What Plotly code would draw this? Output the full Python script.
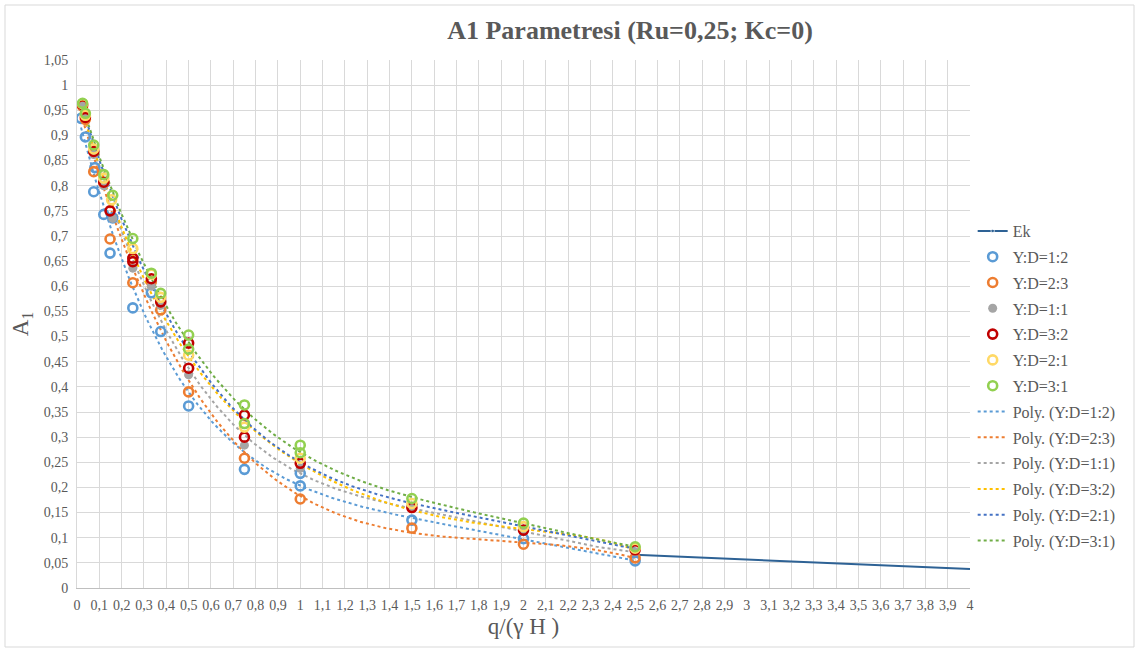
import numpy as np
import plotly.graph_objects as go

# ---------------- data ----------------
ek_x = [2.5, 4.0]
ek_y = [0.066, 0.038]

s12_x = [0.018, 0.0375, 0.075, 0.08, 0.12, 0.148, 0.16, 0.25, 0.333, 0.375, 0.5, 0.75, 1.0, 1.0, 1.5, 2.0, 2.5]
s12_y = [0.934, 0.897, 0.788, 0.836, 0.743, 0.666, 0.736, 0.557, 0.587, 0.510, 0.362, 0.236, 0.228, 0.203, 0.135, 0.098, 0.054]

s23_x = [0.025, 0.0375, 0.075, 0.12, 0.148, 0.25, 0.333, 0.375, 0.5, 0.75, 1.0, 1.5, 2.0, 2.5]
s23_y = [0.958, 0.932, 0.828, 0.806, 0.694, 0.607, 0.609, 0.553, 0.390, 0.258, 0.177, 0.119, 0.087, 0.060]

s11_x = [0.025, 0.0375, 0.075, 0.12, 0.16, 0.25, 0.333, 0.375, 0.5, 0.75, 1.0, 1.5, 2.0, 2.5]
s11_y = [0.958, 0.935, 0.862, 0.800, 0.735, 0.636, 0.600, 0.562, 0.424, 0.284, 0.238, 0.158, 0.112, 0.072]

s32_x = [0.025, 0.0375, 0.075, 0.12, 0.148, 0.25, 0.25, 0.333, 0.375, 0.5, 0.5, 0.75, 0.75, 1.0, 1.5, 2.0, 2.5]
s32_y = [0.961, 0.936, 0.868, 0.807, 0.750, 0.656, 0.649, 0.615, 0.569, 0.487, 0.437, 0.344, 0.300, 0.248, 0.160, 0.115, 0.076]

s21_x = [0.025, 0.0375, 0.075, 0.12, 0.155, 0.25, 0.333, 0.375, 0.5, 0.75, 1.0, 1.5, 2.0, 2.5]
s21_y = [0.963, 0.940, 0.873, 0.815, 0.772, 0.675, 0.624, 0.578, 0.463, 0.320, 0.258, 0.168, 0.122, 0.079]

s31_x = [0.025, 0.0375, 0.075, 0.12, 0.16, 0.25, 0.333, 0.375, 0.5, 0.5, 0.75, 0.75, 1.0, 1.0, 1.5, 2.0, 2.5]
s31_y = [0.964, 0.944, 0.881, 0.822, 0.781, 0.695, 0.626, 0.586, 0.503, 0.475, 0.364, 0.327, 0.284, 0.269, 0.178, 0.129, 0.082]

series_names = ["Y:D=1:2", "Y:D=2:3", "Y:D=1:1", "Y:D=3:2", "Y:D=2:1", "Y:D=3:1"]

x_tick_vals = [round(i * 0.1, 1) for i in range(41)]
x_tick_text = ["0", "0,1", "0,2", "0,3", "0,4", "0,5", "0,6", "0,7", "0,8", "0,9",
               "1", "1,1", "1,2", "1,3", "1,4", "1,5", "1,6", "1,7", "1,8", "1,9",
               "2", "2,1", "2,2", "2,3", "2,4", "2,5", "2,6", "2,7", "2,8", "2,9",
               "3", "3,1", "3,2", "3,3", "3,4", "3,5", "3,6", "3,7", "3,8", "3,9", "4"]
y_tick_vals = [round(i * 0.05, 2) for i in range(22)]
y_tick_text = ["0", "0,05", "0,1", "0,15", "0,2", "0,25", "0,3", "0,35", "0,4", "0,45", "0,5",
               "0,55", "0,6", "0,65", "0,7", "0,75", "0,8", "0,85", "0,9", "0,95", "1", "1,05"]

# ---------------- styling ----------------
FONT = "Liberation Serif"
TXT = "#595959"
marker_colors = ["#5B9BD5", "#ED7D31", "#A5A5A5", "#C00000", "#FFD966", "#92D050"]
trend_colors = ["#5B9BD5", "#ED7D31", "#A5A5A5", "#FFC000", "#4472C4", "#70AD47"]
data_sets = [(s12_x, s12_y), (s23_x, s23_y), (s11_x, s11_y), (s32_x, s32_y), (s21_x, s21_y), (s31_x, s31_y)]

fig = go.Figure()

# polynomial trendlines (Excel-style regression of each series)
for i, ((xs, ys), name) in enumerate(zip(data_sets, series_names)):
    xa = np.array(xs)
    ya = np.array(ys)
    coef = np.polyfit(xa, ya, 5)
    xx = np.linspace(xa.min(), xa.max(), 200)
    yy = np.polyval(coef, xx)
    fig.add_trace(go.Scatter(
        x=xx, y=yy, mode="lines", name=f"Poly. ({name})",
        line=dict(color=trend_colors[i], width=2, dash="dot"),
        legendrank=100 + i, legendgroup=f"p{i}", hoverinfo="skip"))

# Ek line
fig.add_trace(go.Scatter(
    x=ek_x, y=ek_y, mode="lines+markers", name="Ek",
    line=dict(color="#2E6295", width=2),
    marker=dict(size=[7, 0], color="#2E6295"),
    legendrank=1, legendgroup="ek"))

# markers
for i, ((xs, ys), name) in enumerate(zip(data_sets, series_names)):
    if i == 2:
        mk = dict(symbol="circle", size=9, color=marker_colors[i])
    else:
        mk = dict(symbol="circle-open", size=9, color=marker_colors[i],
                  line=dict(width=2.6, color=marker_colors[i]))
    fig.add_trace(go.Scatter(
        x=xs, y=ys, mode="markers", name=name, marker=mk,
        legendrank=10 + i, legendgroup=f"m{i}"))

L, R, T, B = 77, 169, 60, 64
W, H = 1139, 652
pw, ph = W - L - R, H - T - B

fig.update_layout(
    width=W, height=H,
    margin=dict(l=L, r=R, t=T, b=B, autoexpand=False),
    paper_bgcolor="white", plot_bgcolor="white",
    font=dict(family=FONT, color=TXT, size=14),
    title=dict(text="<b>A1 Parametresi (Ru=0,25; Kc=0)</b>",
               x=(630 - L) / pw, xref="paper", xanchor="center",
               y=1 - 30 / H, yanchor="middle",
               font=dict(family=FONT, size=26, color=TXT)),
    showlegend=True,
    legend=dict(x=1.003, xanchor="left", y=(588 - 214) / ph, yanchor="top",
                font=dict(family=FONT, size=16, color=TXT),
                tracegroupgap=2, traceorder="grouped",
                itemwidth=30, bgcolor="rgba(0,0,0,0)"),
    xaxis=dict(range=[0, 4], tickvals=x_tick_vals, ticktext=x_tick_text,
               tickangle=0, showgrid=True, gridcolor="#D9D9D9", gridwidth=1,
               showline=True, linecolor="#BFBFBF", linewidth=1, mirror=False,
               zeroline=False, ticks="", tickfont=dict(size=14, color=TXT),
               ticklabelstandoff=4,
               title=dict(text="q/(γ H )", font=dict(size=23, color=TXT), standoff=6)),
    yaxis=dict(range=[0, 1.05], tickvals=y_tick_vals, ticktext=y_tick_text,
               showgrid=True, gridcolor="#D9D9D9", gridwidth=1,
               showline=True, linecolor="#D9D9D9", linewidth=1,
               zeroline=False, ticks="", tickfont=dict(size=14, color=TXT),
               ticklabelstandoff=5,
               title=dict(text="A<sub>1</sub>", font=dict(size=23, color=TXT), standoff=8)),
    shapes=[dict(type="rect", xref="paper", yref="paper",
                 x0=(5 - L) / pw, x1=(1134 - L) / pw,
                 y0=(588 - 647) / ph, y1=(588 - 5) / ph,
                 line=dict(color="#D9D9D9", width=1), layer="below")],
)

fig.write_html("out.html", config={"displayModeBar": False},
               post_script="document.body.style.margin='0px';")
